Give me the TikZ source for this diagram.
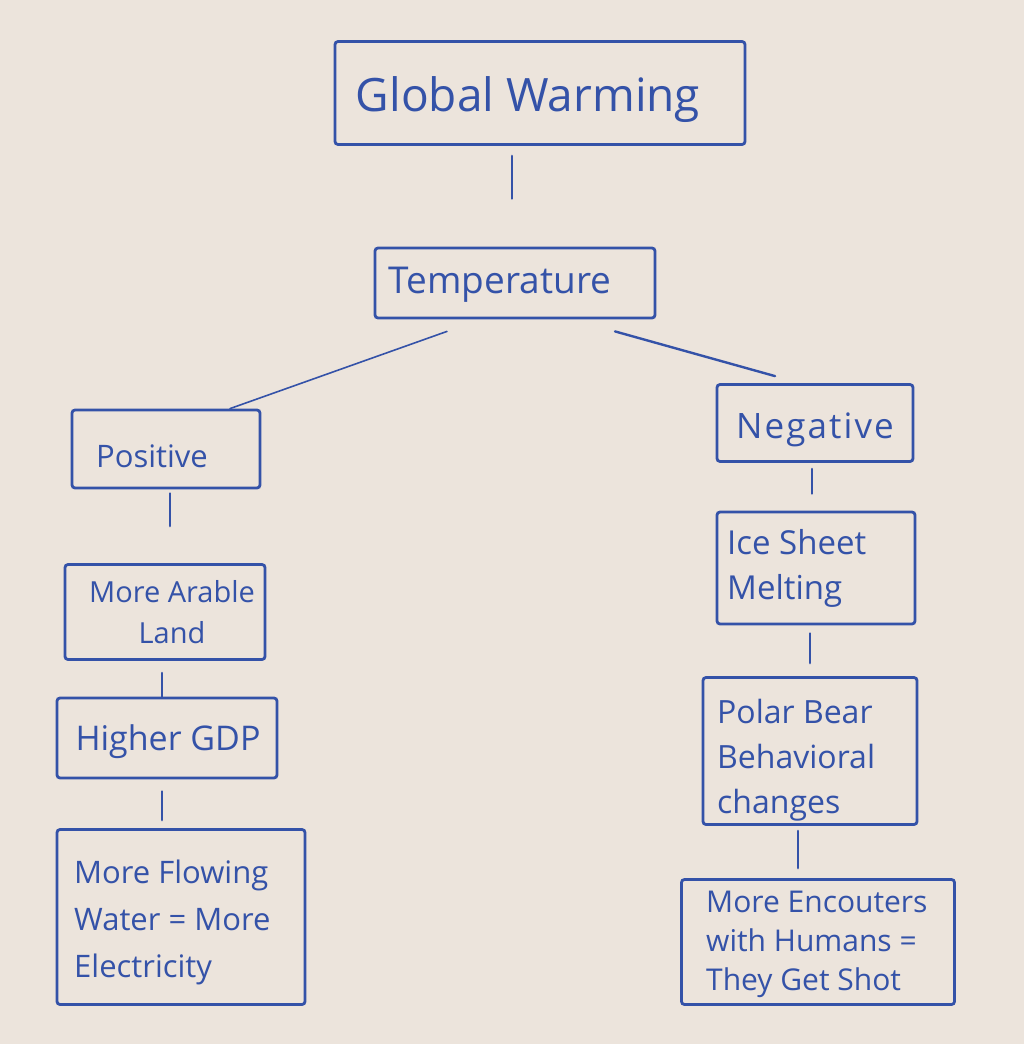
\documentclass[tikz,border=0pt]{standalone}
\usepackage{fontspec}
\setmainfont{Open Sans}
\usetikzlibrary{calc}
\definecolor{ink}{RGB}{52,82,168}
\definecolor{board}{RGB}{236,228,220}
\tikzset{
  box/.style={draw=ink, line width=2.8pt, rounded corners=3pt, inner sep=0pt},
  conn/.style={draw=ink, line width=2.4pt, line cap=round},
  txt/.style={text=ink, inner sep=0pt},
  ltxt/.style={txt, anchor=west, align=left}
}
\begin{document}
\begin{tikzpicture}[x=1pt,y=-1pt]
\fill[board] (0,0) rectangle (1024,1044);
\useasboundingbox (0,0) rectangle (1024,1044);
% boxes
\node[box, minimum width=410, minimum height=103] (gw) at (540,93) {};
\node[box, minimum width=280, minimum height=70] (temp) at (515,283) {};
\node[box, minimum width=188, minimum height=78] (pos) at (166,449) {};
\node[box, minimum width=200, minimum height=95] (arable) at (165,612) {};
\node[box, minimum width=220, minimum height=80] (gdp) at (167,738) {};
\node[box, minimum width=248, minimum height=175] (flow) at (181,917) {};
\node[box, minimum width=196, minimum height=77] (neg) at (815,423) {};
\node[box, minimum width=198, minimum height=112] (ice) at (816,568) {};
\node[box, minimum width=214, minimum height=147] (polar) at (810,751) {};
\node[box, minimum width=273, minimum height=125] (enc) at (818,942) {};
% texts
\node[txt, font=\fontsize{46}{50}\selectfont] (gwt) at (528,100) {Global Warming};
\node[txt, font=\fontsize{37}{40}\selectfont] (tempt) at (500,285) {Temperature};
\node[txt, font=\fontsize{31}{34}\selectfont] (post) at (152,456) {Positive};
\node[txt, align=center, font=\fontsize{29}{41}\selectfont] (arablet) at (172,612) {More Arable\\Land};
\node[txt, font=\fontsize{34}{36}\selectfont] (gdpt) at (168,742) {Higher GDP};
\node[ltxt, font=\fontsize{31}{47}\selectfont] (flowt) at (74,922) {More Flowing\\Water = More\\Electricity};
\node[txt, font=\fontsize{35}{36}\selectfont\addfontfeature{LetterSpace=6}] (negt) at (815,430) {Negative};
\node[ltxt, font=\fontsize{33}{45}\selectfont] (icet) at (727,568) {Ice Sheet\\Melting};
\node[ltxt, font=\fontsize{32}{45}\selectfont] (polart) at (717,760) {Polar Bear\\Behavioral\\changes};
\node[ltxt, font=\fontsize{30}{39}\selectfont] (enct) at (706,944) {More Encouters\\with Humans =\\They Get Shot};
% connectors
\draw[conn] ($(gw.south)+(-28,10)$) -- ($(temp.north)+(-3,-48)$);
\draw[conn, line width=1.6pt] ($(temp.south)+(-68,12)$) -- ($(pos.north)+(64,0)$);
\draw[conn] ($(temp.south)+(100,12)$) -- ($(neg.north)+(-40,-7)$);
\draw[conn] ($(pos.south)+(4,4)$) -- ($(arable.north)+(5,-37)$);
\draw[conn] ($(arable.south)+(-3,12)$) -- ($(gdp.north)+(-5,0)$);
\draw[conn] ($(gdp.south)+(-5,12)$) -- ($(flow.north)+(-19,-8)$);
\draw[conn] ($(neg.south)+(-3,6)$) -- ($(ice.north)+(-4,-17)$);
\draw[conn] ($(ice.south)+(-6,8)$) -- ($(polar.north)+(0,-13)$);
\draw[conn] ($(polar.south)+(-12,5)$) -- ($(enc.north)+(-20,-10)$);
\end{tikzpicture}
\end{document}
